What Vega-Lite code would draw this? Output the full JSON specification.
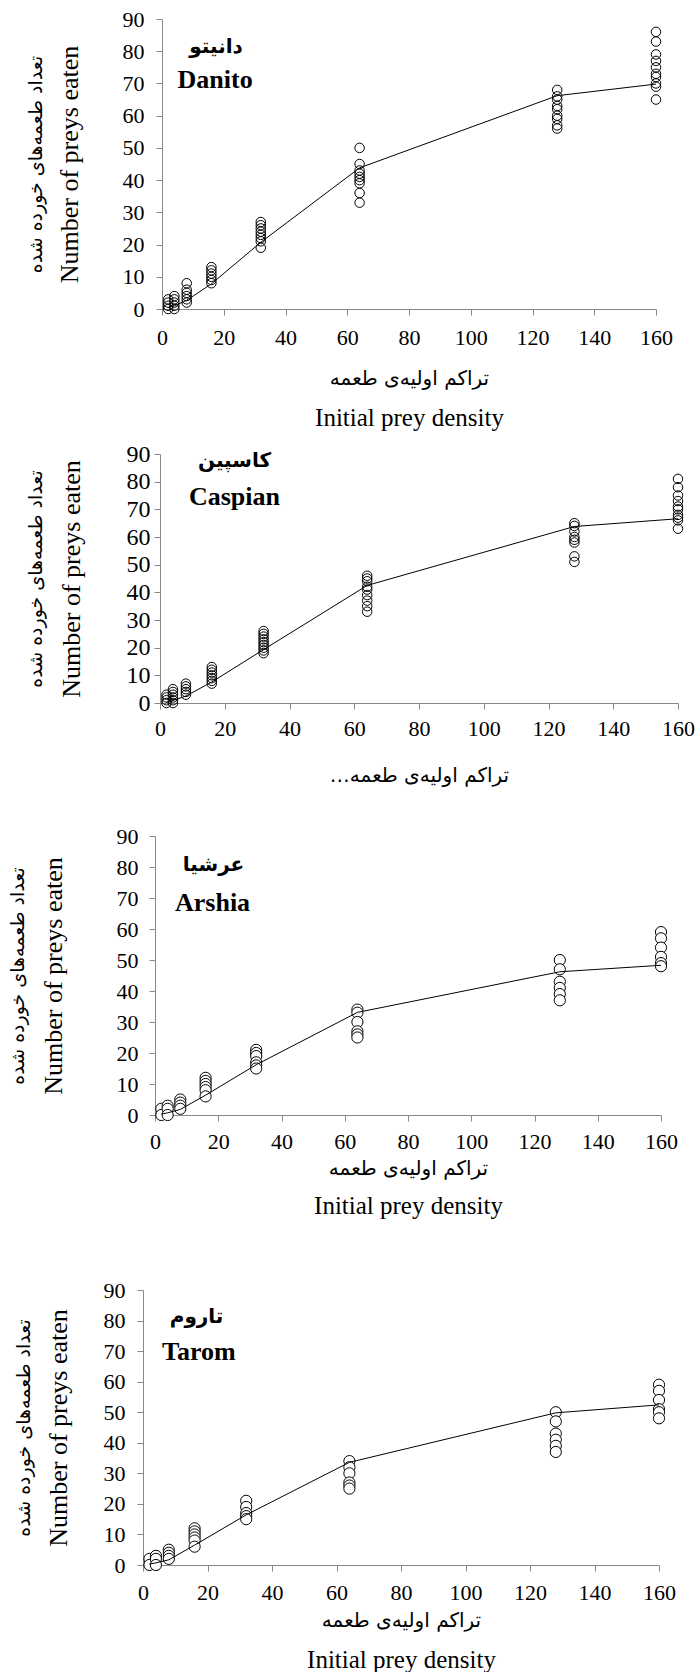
{
"$schema": "https://vega.github.io/schema/vega-lite/v6.json",
"padding": 0,
"background": "white",
"spacing": 0,
"bounds": "flush",
"config": {
  "view": {"stroke": null},
  "axis": {"grid": false, "domainColor": "#898989", "tickColor": "#898989", "tickSize": 6, "labelColor": "black", "labelFont": "Liberation Serif", "labelFontSize": 22, "labelFlush": false, "labelOverlap": false, "titleFont": "Liberation Serif", "titleColor": "black", "titleFontWeight": "normal", "titleBaseline": "middle"}
},
"datasets": {
  "pts": [
    {"c":"Danito","x":2,"y":3},{"c":"Danito","x":2,"y":2},{"c":"Danito","x":2,"y":1},{"c":"Danito","x":2,"y":0},
    {"c":"Danito","x":4,"y":4},{"c":"Danito","x":4,"y":3},{"c":"Danito","x":4,"y":2},{"c":"Danito","x":4,"y":1},{"c":"Danito","x":4,"y":0},
    {"c":"Danito","x":8,"y":8},{"c":"Danito","x":8,"y":6},{"c":"Danito","x":8,"y":5},{"c":"Danito","x":8,"y":4},{"c":"Danito","x":8,"y":3},{"c":"Danito","x":8,"y":2},
    {"c":"Danito","x":16,"y":13},{"c":"Danito","x":16,"y":12},{"c":"Danito","x":16,"y":11},{"c":"Danito","x":16,"y":10},{"c":"Danito","x":16,"y":9},{"c":"Danito","x":16,"y":8},
    {"c":"Danito","x":32,"y":27},{"c":"Danito","x":32,"y":26},{"c":"Danito","x":32,"y":25},{"c":"Danito","x":32,"y":24},{"c":"Danito","x":32,"y":23},{"c":"Danito","x":32,"y":22},{"c":"Danito","x":32,"y":21},{"c":"Danito","x":32,"y":19},
    {"c":"Danito","x":64,"y":50},{"c":"Danito","x":64,"y":45},{"c":"Danito","x":64,"y":43},{"c":"Danito","x":64,"y":42},{"c":"Danito","x":64,"y":41},{"c":"Danito","x":64,"y":40},{"c":"Danito","x":64,"y":39},{"c":"Danito","x":64,"y":36},{"c":"Danito","x":64,"y":33},
    {"c":"Danito","x":128,"y":68},{"c":"Danito","x":128,"y":66},{"c":"Danito","x":128,"y":65},{"c":"Danito","x":128,"y":63},{"c":"Danito","x":128,"y":62},{"c":"Danito","x":128,"y":60},{"c":"Danito","x":128,"y":59},{"c":"Danito","x":128,"y":57},{"c":"Danito","x":128,"y":56},
    {"c":"Danito","x":160,"y":86},{"c":"Danito","x":160,"y":83},{"c":"Danito","x":160,"y":79},{"c":"Danito","x":160,"y":77},{"c":"Danito","x":160,"y":75},{"c":"Danito","x":160,"y":73},{"c":"Danito","x":160,"y":72},{"c":"Danito","x":160,"y":70},{"c":"Danito","x":160,"y":69},{"c":"Danito","x":160,"y":65},
    {"c":"Caspian","x":2,"y":3},{"c":"Caspian","x":2,"y":2},{"c":"Caspian","x":2,"y":1},{"c":"Caspian","x":2,"y":0},
    {"c":"Caspian","x":4,"y":5},{"c":"Caspian","x":4,"y":4},{"c":"Caspian","x":4,"y":3},{"c":"Caspian","x":4,"y":2},{"c":"Caspian","x":4,"y":1},{"c":"Caspian","x":4,"y":0},
    {"c":"Caspian","x":8,"y":7},{"c":"Caspian","x":8,"y":6},{"c":"Caspian","x":8,"y":5},{"c":"Caspian","x":8,"y":4},{"c":"Caspian","x":8,"y":3},
    {"c":"Caspian","x":16,"y":13},{"c":"Caspian","x":16,"y":12},{"c":"Caspian","x":16,"y":11},{"c":"Caspian","x":16,"y":10},{"c":"Caspian","x":16,"y":9},{"c":"Caspian","x":16,"y":8},{"c":"Caspian","x":16,"y":7},
    {"c":"Caspian","x":32,"y":26},{"c":"Caspian","x":32,"y":25},{"c":"Caspian","x":32,"y":24},{"c":"Caspian","x":32,"y":23},{"c":"Caspian","x":32,"y":22},{"c":"Caspian","x":32,"y":21},{"c":"Caspian","x":32,"y":20},{"c":"Caspian","x":32,"y":19},{"c":"Caspian","x":32,"y":18},
    {"c":"Caspian","x":64,"y":46},{"c":"Caspian","x":64,"y":45},{"c":"Caspian","x":64,"y":44},{"c":"Caspian","x":64,"y":42},{"c":"Caspian","x":64,"y":41},{"c":"Caspian","x":64,"y":39},{"c":"Caspian","x":64,"y":37},{"c":"Caspian","x":64,"y":35},{"c":"Caspian","x":64,"y":33},
    {"c":"Caspian","x":128,"y":65},{"c":"Caspian","x":128,"y":64},{"c":"Caspian","x":128,"y":62},{"c":"Caspian","x":128,"y":60},{"c":"Caspian","x":128,"y":59},{"c":"Caspian","x":128,"y":58},{"c":"Caspian","x":128,"y":53},{"c":"Caspian","x":128,"y":51},
    {"c":"Caspian","x":160,"y":81},{"c":"Caspian","x":160,"y":78},{"c":"Caspian","x":160,"y":75},{"c":"Caspian","x":160,"y":73},{"c":"Caspian","x":160,"y":71},{"c":"Caspian","x":160,"y":70},{"c":"Caspian","x":160,"y":68},{"c":"Caspian","x":160,"y":67},{"c":"Caspian","x":160,"y":66},{"c":"Caspian","x":160,"y":63},
    {"c":"Arshia","x":2,"y":2},{"c":"Arshia","x":2,"y":0},
    {"c":"Arshia","x":4,"y":3},{"c":"Arshia","x":4,"y":2},{"c":"Arshia","x":4,"y":0},
    {"c":"Arshia","x":8,"y":5},{"c":"Arshia","x":8,"y":4},{"c":"Arshia","x":8,"y":3},{"c":"Arshia","x":8,"y":2},
    {"c":"Arshia","x":16,"y":12},{"c":"Arshia","x":16,"y":11},{"c":"Arshia","x":16,"y":10},{"c":"Arshia","x":16,"y":9},{"c":"Arshia","x":16,"y":8},{"c":"Arshia","x":16,"y":6},
    {"c":"Arshia","x":32,"y":21},{"c":"Arshia","x":32,"y":20},{"c":"Arshia","x":32,"y":19},{"c":"Arshia","x":32,"y":17},{"c":"Arshia","x":32,"y":16},{"c":"Arshia","x":32,"y":15},
    {"c":"Arshia","x":64,"y":34},{"c":"Arshia","x":64,"y":33},{"c":"Arshia","x":64,"y":30},{"c":"Arshia","x":64,"y":27},{"c":"Arshia","x":64,"y":26},{"c":"Arshia","x":64,"y":25},
    {"c":"Arshia","x":128,"y":50},{"c":"Arshia","x":128,"y":47},{"c":"Arshia","x":128,"y":43},{"c":"Arshia","x":128,"y":41},{"c":"Arshia","x":128,"y":39},{"c":"Arshia","x":128,"y":37},
    {"c":"Arshia","x":160,"y":59},{"c":"Arshia","x":160,"y":57},{"c":"Arshia","x":160,"y":54},{"c":"Arshia","x":160,"y":51},{"c":"Arshia","x":160,"y":49},{"c":"Arshia","x":160,"y":48},
    {"c":"Tarom","x":2,"y":2},{"c":"Tarom","x":2,"y":0},
    {"c":"Tarom","x":4,"y":3},{"c":"Tarom","x":4,"y":2},{"c":"Tarom","x":4,"y":0},
    {"c":"Tarom","x":8,"y":5},{"c":"Tarom","x":8,"y":4},{"c":"Tarom","x":8,"y":3},{"c":"Tarom","x":8,"y":2},
    {"c":"Tarom","x":16,"y":12},{"c":"Tarom","x":16,"y":11},{"c":"Tarom","x":16,"y":10},{"c":"Tarom","x":16,"y":9},{"c":"Tarom","x":16,"y":8},{"c":"Tarom","x":16,"y":6},
    {"c":"Tarom","x":32,"y":21},{"c":"Tarom","x":32,"y":19},{"c":"Tarom","x":32,"y":17},{"c":"Tarom","x":32,"y":16},{"c":"Tarom","x":32,"y":15},
    {"c":"Tarom","x":64,"y":34},{"c":"Tarom","x":64,"y":32},{"c":"Tarom","x":64,"y":30},{"c":"Tarom","x":64,"y":27},{"c":"Tarom","x":64,"y":26},{"c":"Tarom","x":64,"y":25},
    {"c":"Tarom","x":128,"y":50},{"c":"Tarom","x":128,"y":47},{"c":"Tarom","x":128,"y":43},{"c":"Tarom","x":128,"y":41},{"c":"Tarom","x":128,"y":39},{"c":"Tarom","x":128,"y":37},
    {"c":"Tarom","x":160,"y":59},{"c":"Tarom","x":160,"y":57},{"c":"Tarom","x":160,"y":54},{"c":"Tarom","x":160,"y":51},{"c":"Tarom","x":160,"y":50},{"c":"Tarom","x":160,"y":48}
  ],
  "fit": [
    {"c":"Danito","x":2,"y":0.4},{"c":"Danito","x":4,"y":1.0},{"c":"Danito","x":8,"y":2.7},{"c":"Danito","x":16,"y":7.8},{"c":"Danito","x":32,"y":20.7},{"c":"Danito","x":64,"y":43.8},{"c":"Danito","x":128,"y":66.2},{"c":"Danito","x":160,"y":69.8},
    {"c":"Caspian","x":2,"y":0.3},{"c":"Caspian","x":4,"y":0.9},{"c":"Caspian","x":8,"y":2.5},{"c":"Caspian","x":16,"y":7.6},{"c":"Caspian","x":32,"y":19.3},{"c":"Caspian","x":64,"y":42.5},{"c":"Caspian","x":128,"y":63.8},{"c":"Caspian","x":160,"y":66.6},
    {"c":"Arshia","x":2,"y":0.3},{"c":"Arshia","x":4,"y":0.7},{"c":"Arshia","x":8,"y":1.8},{"c":"Arshia","x":16,"y":6.4},{"c":"Arshia","x":32,"y":16.2},{"c":"Arshia","x":64,"y":33.1},{"c":"Arshia","x":128,"y":46.2},{"c":"Arshia","x":160,"y":48.3},
    {"c":"Tarom","x":2,"y":0.3},{"c":"Tarom","x":4,"y":0.7},{"c":"Tarom","x":8,"y":1.7},{"c":"Tarom","x":16,"y":6.5},{"c":"Tarom","x":32,"y":16.4},{"c":"Tarom","x":64,"y":33.6},{"c":"Tarom","x":128,"y":49.8},{"c":"Tarom","x":160,"y":52.4}
  ]
},
"vconcat": [
  {
    "width": 697, "height": 440,
    "resolve": {"axis": {"x": "independent", "y": "independent"}},
    "layer": [
      {
        "data": {"name": "pts"},
        "transform": [{"filter": "datum.c === 'Danito'"}],
        "mark": {"type": "point", "shape": "circle", "size": 90, "filled": false, "color": "black", "strokeWidth": 1, "opacity": 1},
        "encoding": {
          "x": {"field": "x", "type": "quantitative", "scale": {"domain": [0, 160], "range": [162, 656], "nice": false, "zero": false},
                "axis": {"orient": "bottom", "offset": -131, "values": [0,20,40,60,80,100,120,140,160], "labelPadding": 12, "title": "تراکم اولیه‌ی طعمه", "titleY": 69, "titleFont": "DejaVu Sans", "titleFontSize": 20}},
          "y": {"field": "y", "type": "quantitative", "scale": {"domain": [0, 90], "range": [309, 19], "nice": false, "zero": false},
                "axis": {"orient": "left", "offset": -162, "values": [0,10,20,30,40,50,60,70,80,90], "labelPadding": 12, "title": "Number of preys eaten", "titleX": -93, "titleFontSize": 26}}
        }
      },
      {
        "data": {"name": "fit"},
        "transform": [{"filter": "datum.c === 'Danito'"}],
        "mark": {"type": "line", "color": "black", "strokeWidth": 1},
        "encoding": {
          "x": {"field": "x", "type": "quantitative", "axis": {"orient": "bottom", "offset": -131, "labels": false, "ticks": false, "domain": false, "title": "Initial prey density", "titleY": 108, "titleFontSize": 25}},
          "y": {"field": "y", "type": "quantitative", "axis": {"orient": "left", "offset": -162, "labels": false, "ticks": false, "domain": false, "title": "تعداد طعمه‌های خورده شده", "titleX": -127, "titleFont": "DejaVu Sans", "titleFontSize": 19}}
        }
      },
      {
        "data": {"values": [{}]},
        "mark": {"type": "text", "font": "DejaVu Sans", "fontWeight": "bold", "fontSize": 20, "color": "black"},
        "encoding": {"x": {"datum": 17.5, "type": "quantitative", "axis": null}, "y": {"datum": 81.4, "type": "quantitative", "axis": null}, "text": {"value": "دانیتو"}}
      },
      {
        "data": {"values": [{}]},
        "mark": {"type": "text", "font": "Liberation Serif", "fontWeight": "bold", "fontSize": 26, "color": "black"},
        "encoding": {"x": {"datum": 17.2, "type": "quantitative", "axis": null}, "y": {"datum": 71.2, "type": "quantitative", "axis": null}, "text": {"value": "Danito"}}
      }
    ]
  },
  {
    "width": 697, "height": 380,
    "resolve": {"axis": {"x": "independent", "y": "independent"}},
    "layer": [
      {
        "data": {"name": "pts"},
        "transform": [{"filter": "datum.c === 'Caspian'"}],
        "mark": {"type": "point", "shape": "circle", "size": 90, "filled": false, "color": "black", "strokeWidth": 1, "opacity": 1},
        "encoding": {
          "x": {"field": "x", "type": "quantitative", "scale": {"domain": [0, 160], "range": [160, 678], "nice": false, "zero": false},
                "axis": {"orient": "bottom", "offset": -117, "values": [0,20,40,60,80,100,120,140,160], "labelPadding": 9, "title": "تراکم اولیه‌ی طعمه…‏", "titleY": 72, "titleFont": "DejaVu Sans", "titleFontSize": 20}},
          "y": {"field": "y", "type": "quantitative", "scale": {"domain": [0, 90], "range": [263, 14], "nice": false, "zero": false},
                "axis": {"orient": "left", "offset": -160, "values": [0,10,20,30,40,50,60,70,80,90], "labelPadding": 4, "labelFontSize": 24, "title": "Number of preys eaten", "titleX": -89, "titleFontSize": 26}}
        }
      },
      {
        "data": {"name": "fit"},
        "transform": [{"filter": "datum.c === 'Caspian'"}],
        "mark": {"type": "line", "color": "black", "strokeWidth": 1},
        "encoding": {
          "x": {"field": "x", "type": "quantitative", "axis": null},
          "y": {"field": "y", "type": "quantitative", "axis": {"orient": "left", "offset": -160, "labels": false, "ticks": false, "domain": false, "title": "تعداد طعمه‌های خورده شده", "titleX": -125, "titleFont": "DejaVu Sans", "titleFontSize": 19}}
        }
      },
      {
        "data": {"values": [{}]},
        "mark": {"type": "text", "font": "DejaVu Sans", "fontWeight": "bold", "fontSize": 20, "color": "black"},
        "encoding": {"x": {"datum": 23, "type": "quantitative", "axis": null}, "y": {"datum": 87.6, "type": "quantitative", "axis": null}, "text": {"value": "کاسپین"}}
      },
      {
        "data": {"values": [{}]},
        "mark": {"type": "text", "font": "Liberation Serif", "fontWeight": "bold", "fontSize": 26, "color": "black"},
        "encoding": {"x": {"datum": 23, "type": "quantitative", "axis": null}, "y": {"datum": 74.5, "type": "quantitative", "axis": null}, "text": {"value": "Caspian"}}
      }
    ]
  },
  {
    "width": 697, "height": 420,
    "resolve": {"axis": {"x": "independent", "y": "independent"}},
    "layer": [
      {
        "data": {"name": "pts"},
        "transform": [{"filter": "datum.c === 'Arshia'"}],
        "mark": {"type": "point", "shape": "circle", "size": 125, "filled": true, "fill": "white", "stroke": "black", "strokeWidth": 1, "opacity": 1},
        "encoding": {
          "x": {"field": "x", "type": "quantitative", "scale": {"domain": [0, 160], "range": [155, 661], "nice": false, "zero": false},
                "axis": {"orient": "bottom", "offset": -125, "values": [0,20,40,60,80,100,120,140,160], "labelPadding": 10, "title": "تراکم اولیه‌ی طعمه", "titleY": 53, "titleFont": "DejaVu Sans", "titleFontSize": 20}},
          "y": {"field": "y", "type": "quantitative", "scale": {"domain": [0, 90], "range": [295, 16], "nice": false, "zero": false},
                "axis": {"orient": "left", "offset": -155, "values": [0,10,20,30,40,50,60,70,80,90], "labelPadding": 11, "title": "Number of preys eaten", "titleX": -102, "titleFontSize": 26}}
        }
      },
      {
        "data": {"name": "fit"},
        "transform": [{"filter": "datum.c === 'Arshia'"}],
        "mark": {"type": "line", "color": "black", "strokeWidth": 1},
        "encoding": {
          "x": {"field": "x", "type": "quantitative", "axis": {"orient": "bottom", "offset": -125, "labels": false, "ticks": false, "domain": false, "title": "Initial prey density", "titleY": 90, "titleFontSize": 25}},
          "y": {"field": "y", "type": "quantitative", "axis": {"orient": "left", "offset": -155, "labels": false, "ticks": false, "domain": false, "title": "تعداد طعمه‌های خورده شده", "titleX": -138, "titleFont": "DejaVu Sans", "titleFontSize": 19}}
        }
      },
      {
        "data": {"values": [{}]},
        "mark": {"type": "text", "font": "DejaVu Sans", "fontWeight": "bold", "fontSize": 20, "color": "black"},
        "encoding": {"x": {"datum": 18.5, "type": "quantitative", "axis": null}, "y": {"datum": 80.7, "type": "quantitative", "axis": null}, "text": {"value": "عرشیا"}}
      },
      {
        "data": {"values": [{}]},
        "mark": {"type": "text", "font": "Liberation Serif", "fontWeight": "bold", "fontSize": 26, "color": "black"},
        "encoding": {"x": {"datum": 18.2, "type": "quantitative", "axis": null}, "y": {"datum": 68.4, "type": "quantitative", "axis": null}, "text": {"value": "Arshia"}}
      }
    ]
  },
  {
    "width": 697, "height": 432,
    "resolve": {"axis": {"x": "independent", "y": "independent"}},
    "layer": [
      {
        "data": {"name": "pts"},
        "transform": [{"filter": "datum.c === 'Tarom'"}],
        "mark": {"type": "point", "shape": "circle", "size": 125, "filled": true, "fill": "white", "stroke": "black", "strokeWidth": 1, "opacity": 1},
        "encoding": {
          "x": {"field": "x", "type": "quantitative", "scale": {"domain": [0, 160], "range": [143, 659], "nice": false, "zero": false},
                "axis": {"orient": "bottom", "offset": -107, "values": [0,20,40,60,80,100,120,140,160], "labelPadding": 11, "title": "تراکم اولیه‌ی طعمه", "titleY": 55, "titleFont": "DejaVu Sans", "titleFontSize": 20}},
          "y": {"field": "y", "type": "quantitative", "scale": {"domain": [0, 90], "range": [325, 50], "nice": false, "zero": false},
                "axis": {"orient": "left", "offset": -143, "values": [0,10,20,30,40,50,60,70,80,90], "labelPadding": 12, "title": "Number of preys eaten", "titleX": -85, "titleFontSize": 26}}
        }
      },
      {
        "data": {"name": "fit"},
        "transform": [{"filter": "datum.c === 'Tarom'"}],
        "mark": {"type": "line", "color": "black", "strokeWidth": 1},
        "encoding": {
          "x": {"field": "x", "type": "quantitative", "axis": {"orient": "bottom", "offset": -107, "labels": false, "ticks": false, "domain": false, "title": "Initial prey density", "titleY": 94, "titleFontSize": 25}},
          "y": {"field": "y", "type": "quantitative", "axis": {"orient": "left", "offset": -143, "labels": false, "ticks": false, "domain": false, "title": "تعداد طعمه‌های خورده شده", "titleX": -120, "titleFont": "DejaVu Sans", "titleFontSize": 19}}
        }
      },
      {
        "data": {"values": [{}]},
        "mark": {"type": "text", "font": "DejaVu Sans", "fontWeight": "bold", "fontSize": 20, "color": "black"},
        "encoding": {"x": {"datum": 16.6, "type": "quantitative", "axis": null}, "y": {"datum": 81.1, "type": "quantitative", "axis": null}, "text": {"value": "تاروم"}}
      },
      {
        "data": {"values": [{}]},
        "mark": {"type": "text", "font": "Liberation Serif", "fontWeight": "bold", "fontSize": 26, "color": "black"},
        "encoding": {"x": {"datum": 17.3, "type": "quantitative", "axis": null}, "y": {"datum": 69.8, "type": "quantitative", "axis": null}, "text": {"value": "Tarom"}}
      }
    ]
  }
]
}
